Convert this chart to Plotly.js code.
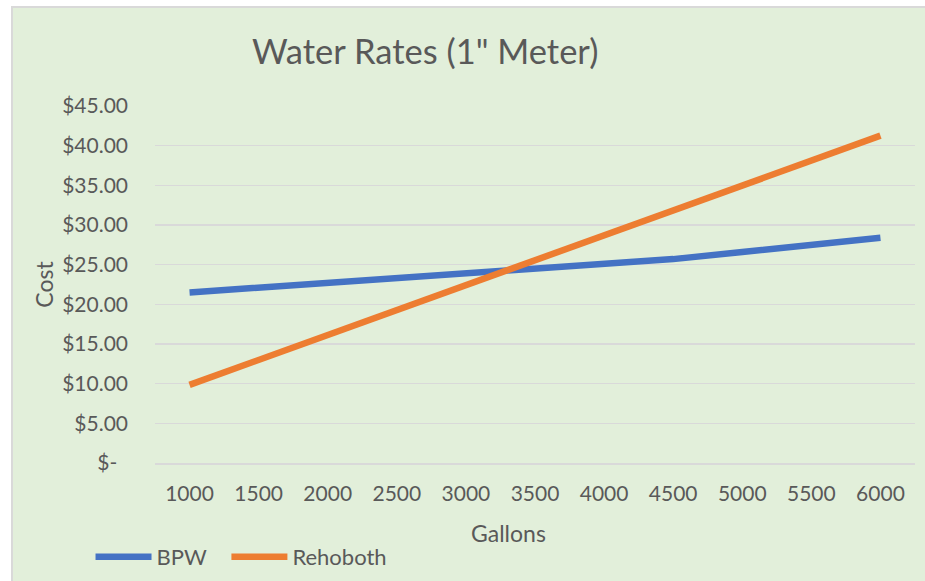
<!DOCTYPE html>
<html>
<head>
<meta charset="utf-8">
<script src="https://cdn.plot.ly/plotly-3.0.1.min.js"></script>
<style>
  html, body { margin: 0; padding: 0; background: #ffffff; width: 925px; height: 581px; overflow: hidden; }
  #frame { position: absolute; left: 11px; top: 6px; width: 914px; height: 575px;
           border-left: 2px solid #d9d9d9; border-top: 2px solid #d9d9d9; background: #E2EFDA; }
  #chart { position: absolute; left: 0; top: 0; width: 912px; height: 573px; }
</style>
</head>
<body>
<div id="frame"><div id="chart"></div></div>
<script>
// Data
const gallons = [1000, 1500, 2000, 2500, 3000, 3500, 4000, 4500, 5000, 5500, 6000];
const bpw = [21.5, 22.1, 22.7, 23.3, 23.9, 24.5, 25.1, 25.7, 26.6, 27.5, 28.4];
const rehoboth = [9.85, 12.99, 16.13, 19.27, 22.41, 25.55, 28.69, 31.83, 34.97, 38.12, 41.26];
const costTicks = [0, 5, 10, 15, 20, 25, 30, 35, 40, 45];
const costLabels = ["$-\u00a0\u00a0", "$5.00", "$10.00", "$15.00", "$20.00", "$25.00", "$30.00", "$35.00", "$40.00", "$45.00"];

const FONT = "Lato, Carlito, Calibri, 'Open Sans', sans-serif";
const TXT = "#595959";
const GRID = "#d9d9d9";

const traces = [
  { x: gallons, y: bpw, name: "BPW", type: "scatter", mode: "lines", legend: "legend",
    line: { color: "#4472C4", width: 6.5 } },
  { x: gallons, y: rehoboth, name: "Rehoboth", type: "scatter", mode: "lines", legend: "legend2",
    line: { color: "#ED7D31", width: 6.5 } }
];

const legendBase = {
  orientation: "h", xref: "container", yref: "container",
  y: 0.042, xanchor: "left", yanchor: "middle",
  font: { family: FONT, size: 22, color: TXT }, bgcolor: "rgba(0,0,0,0)",
  itemwidth: 56
};

const layout = {
  width: 912, height: 573,
  paper_bgcolor: "#E2EFDA", plot_bgcolor: "#E2EFDA",
  font: { family: FONT, color: TXT, size: 21 },
  margin: { l: 142, r: 10, t: 98, b: 118 },
  title: { text: "Water Rates (1\" Meter)", font: { family: FONT, size: 34.5, color: TXT },
           xref: "container", yref: "container", x: 0.452, y: 0.923,
           xanchor: "center", yanchor: "middle" },
  xaxis: {
    range: [750, 6250], tickmode: "array", tickvals: gallons, ticktext: gallons.map(String),
    showgrid: false, zeroline: false, showline: true, linecolor: GRID, linewidth: 1.5,
    ticks: "", ticklabelstandoff: 11,
    tickfont: { family: FONT, size: 21, color: TXT },
    fixedrange: true
  },
  yaxis: {
    range: [0, 45], tickmode: "array", tickvals: costTicks, ticktext: costLabels,
    showgrid: true, gridcolor: GRID, gridwidth: 1.5,
    zeroline: true, zerolinecolor: GRID, zerolinewidth: 1.5,
    ticks: "", ticklabelstandoff: 26,
    tickfont: { family: FONT, size: 21, color: TXT },
    title: { text: "Cost", font: { family: FONT, size: 23, color: TXT }, standoff: 2 },
    fixedrange: true
  },
  annotations: [
    { text: "Gallons", xref: "paper", yref: "paper", x: 0.4645, y: -0.196,
      xanchor: "center", yanchor: "middle", showarrow: false,
      font: { family: FONT, size: 23, color: TXT } }
  ],
  showlegend: true,
  legend: Object.assign({}, legendBase, { x: 0.085 }),
  legend2: Object.assign({}, legendBase, { x: 0.234 })
};

Plotly.newPlot("chart", traces, layout, { displayModeBar: false, staticPlot: true });
</script>
</body>
</html>
